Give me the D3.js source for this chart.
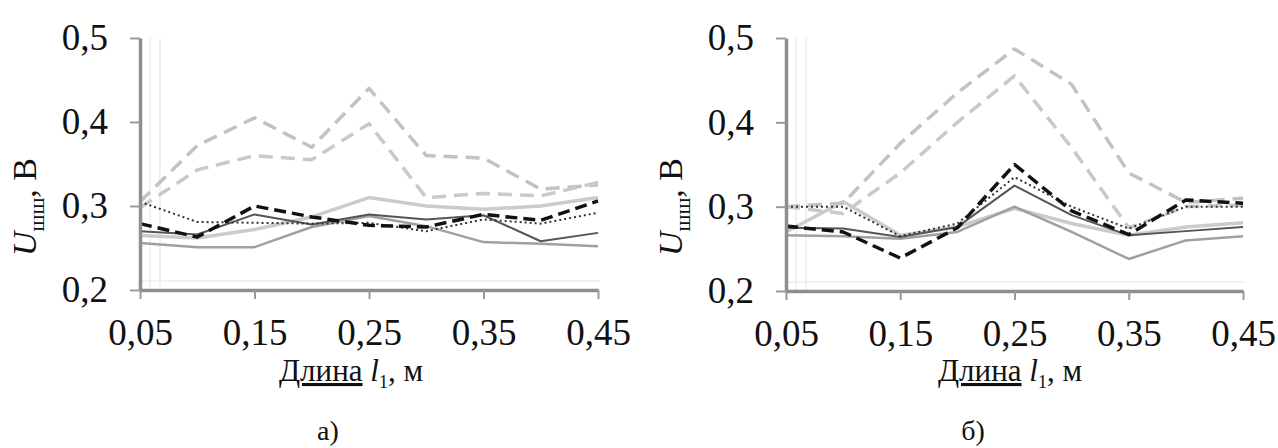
<!DOCTYPE html>
<html>
<head>
<meta charset="utf-8">
<script src="https://cdn.jsdelivr.net/npm/d3@7"></script>
<style>
  html, body { margin: 0; padding: 0; background: #fff; }
  svg { display: block; }
  svg text { font-family: "Liberation Serif", "Times New Roman", Times, "DejaVu Serif", serif; fill: #111; }
</style>
</head>
<body>
<svg id="chart"></svg>
<script>
// lengths l1, m
const xValues = [0.05, 0.10, 0.15, 0.20, 0.25, 0.30, 0.35, 0.40, 0.45];
const xTicks = [0.05, 0.15, 0.25, 0.35, 0.45];
const yTicks = [0.2, 0.3, 0.4, 0.5];

// panel а)
const aBlackDash = [0.279, 0.263, 0.300, 0.287, 0.277, 0.275, 0.290, 0.283, 0.306];
const aBlackDot  = [0.305, 0.281, 0.280, 0.279, 0.280, 0.270, 0.284, 0.279, 0.292];
const aDarkGray  = [0.270, 0.266, 0.290, 0.278, 0.290, 0.284, 0.289, 0.258, 0.268];
const aMidGray   = [0.256, 0.251, 0.251, 0.275, 0.288, 0.276, 0.257, 0.255, 0.252];
const aLightGray = [0.265, 0.262, 0.272, 0.287, 0.310, 0.300, 0.296, 0.300, 0.310];
const aDashUpper = [0.305, 0.372, 0.405, 0.370, 0.440, 0.360, 0.357, 0.320, 0.325];
const aDashLower = [0.298, 0.343, 0.360, 0.355, 0.398, 0.310, 0.315, 0.312, 0.328];

// panel б)
const bBlackDash = [0.277, 0.270, 0.239, 0.275, 0.350, 0.295, 0.267, 0.308, 0.304];
const bBlackDot  = [0.300, 0.300, 0.265, 0.280, 0.335, 0.300, 0.274, 0.300, 0.300];
const bDarkGray  = [0.275, 0.274, 0.264, 0.276, 0.325, 0.290, 0.266, 0.271, 0.276];
const bMidGray   = [0.266, 0.265, 0.262, 0.270, 0.300, 0.270, 0.238, 0.260, 0.265];
const bLightGray = [0.270, 0.306, 0.266, 0.276, 0.298, 0.280, 0.266, 0.276, 0.281];
const bDashUpper = [0.300, 0.304, 0.375, 0.435, 0.487, 0.445, 0.340, 0.305, 0.310];
const bDashLower = [0.300, 0.292, 0.340, 0.400, 0.455, 0.370, 0.275, 0.300, 0.302];

const styles = [
  { key: "lightGray", color: "#cbcbcb", width: 3.5, dash: null },
  { key: "dashUpper", color: "#c2c2c2", width: 3.5, dash: "14,8" },
  { key: "dashLower", color: "#c9c9c9", width: 3.5, dash: "14,8" },
  { key: "midGray",   color: "#a0a0a0", width: 2.5, dash: null },
  { key: "darkGray",  color: "#555555", width: 2,   dash: null },
  { key: "blackDot",  color: "#333333", width: 2,   dash: "2,3" },
  { key: "blackDash", color: "#111111", width: 3.5, dash: "12,6" }
];

const panels = [
  { left: 140, right: 598, top: 38, bottom: 290, label: "а)", labelX: 328, titleX: 351,
    series: { blackDash: aBlackDash, blackDot: aBlackDot, darkGray: aDarkGray, midGray: aMidGray,
              lightGray: aLightGray, dashUpper: aDashUpper, dashLower: aDashLower } },
  { left: 786, right: 1243, top: 38, bottom: 291, label: "б)", labelX: 973, titleX: 1010,
    series: { blackDash: bBlackDash, blackDot: bBlackDot, darkGray: bDarkGray, midGray: bMidGray,
              lightGray: bLightGray, dashUpper: bDashUpper, dashLower: bDashLower } }
];

const serif = "'Liberation Serif', 'Times New Roman', Times, 'DejaVu Serif', serif";

const svg = d3.select("#chart")
  .attr("width", 1278)
  .attr("height", 448)
  .attr("font-family", serif);

const comma = f => v => d3.format(f)(v).replace(".", ",");

panels.forEach(p => {
  const x = d3.scaleLinear().domain([0.05, 0.45]).range([p.left, p.right]);
  const y = d3.scaleLinear().domain([0.2, 0.5]).range([p.bottom, p.top]);

  // faint frame traces next to the axes
  [10, 20].forEach(off => {
    svg.append("line")
      .attr("x1", p.left + off).attr("x2", p.left + off)
      .attr("y1", p.top).attr("y2", p.bottom)
      .attr("stroke", "#ececec").attr("stroke-width", 1.5);
  });
  svg.append("line")
    .attr("x1", p.left).attr("x2", p.right + 2)
    .attr("y1", p.bottom - 9).attr("y2", p.bottom - 9)
    .attr("stroke", "#ededed").attr("stroke-width", 1.5);

  const line = d3.line()
    .x((d, i) => x(xValues[i]))
    .y(d => y(d));

  styles.forEach(s => {
    svg.append("path")
      .datum(p.series[s.key])
      .attr("fill", "none")
      .attr("stroke", s.color)
      .attr("stroke-width", s.width)
      .attr("stroke-dasharray", s.dash)
      .attr("stroke-linejoin", "round")
      .attr("d", line);
  });

  const xAxis = svg.append("g")
    .attr("transform", `translate(0,${p.bottom})`)
    .call(d3.axisBottom(x).tickValues(xTicks).tickFormat(comma(".2f"))
      .tickSize(9).tickSizeOuter(0).tickPadding(20));

  const yAxis = svg.append("g")
    .attr("transform", `translate(${p.left},0)`)
    .call(d3.axisLeft(y).tickValues(yTicks).tickFormat(comma(".1f"))
      .tickSize(10).tickSizeOuter(0).tickPadding(22));

  [xAxis, yAxis].forEach(g => {
    g.attr("font-family", serif);
    g.select(".domain").attr("stroke", "#8e8e8e").attr("stroke-width", 3.5);
    g.selectAll(".tick line").attr("stroke", "#9a9a9a").attr("stroke-width", 2);
    g.selectAll(".tick text")
      .style("font-family", serif)
      .style("font-size", "37px")
      .attr("fill", "#222");
  });

  // x title: Длина l1, м
  const xt = svg.append("text")
    .attr("x", p.titleX)
    .attr("y", 381)
    .attr("text-anchor", "middle")
    .style("font-family", serif)
    .style("font-size", "31px");
  xt.append("tspan").text("Длина").style("text-decoration", "underline");
  xt.append("tspan").text(" l").style("font-style", "italic");
  xt.append("tspan").text("1").attr("dy", 7).style("font-size", "18px");
  xt.append("tspan").text(", м").attr("dy", -7);

  // y title: Uшш, В
  const yt = svg.append("text")
    .attr("transform", `translate(${p.left - 104},${207}) rotate(-90)`)
    .attr("text-anchor", "middle")
    .style("font-family", serif)
    .style("font-size", "34px");
  yt.append("tspan").text("U").style("font-style", "italic");
  yt.append("tspan").text("шш").attr("dy", 8).style("font-size", "22px");
  yt.append("tspan").text(", В").attr("dy", -8);

  svg.append("text")
    .attr("x", p.labelX)
    .attr("y", 440)
    .attr("text-anchor", "middle")
    .style("font-family", serif)
    .style("font-size", "28px")
    .text(p.label);
});
</script>
</body>
</html>
